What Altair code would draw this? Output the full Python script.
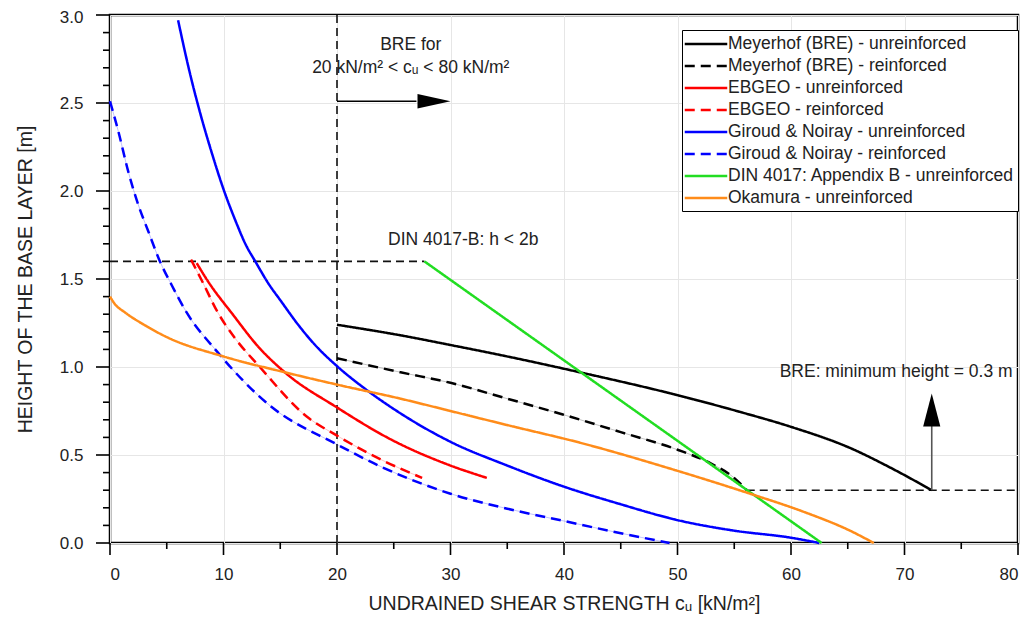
import altair as alt
import pandas as pd

# ---------------- data ----------------
series_names = [
    "Meyerhof (BRE) - unreinforced",
    "Meyerhof (BRE) - reinforced",
    "EBGEO - unreinforced",
    "EBGEO - reinforced",
    "Giroud & Noiray - unreinforced",
    "Giroud & Noiray - reinforced",
    "DIN 4017: Appendix B - unreinforced",
    "Okamura - unreinforced",
]
series_colors = ["#000000", "#000000", "#ff0000", "#ff0000",
                 "#0000ff", "#0000ff", "#22dd22", "#ff8c1a"]
series_dashes = [[1, 0], [10, 6], [1, 0], [10, 6],
                 [1, 0], [10, 6], [1, 0], [1, 0]]

meyerhof_unr_x = [20, 25.6, 30, 35, 41.4, 50, 55.5, 60, 65.2, 68.7, 72.4]
meyerhof_unr_y = [1.24, 1.18, 1.125, 1.06, 0.97, 0.84, 0.745, 0.66, 0.54, 0.43, 0.30]

meyerhof_rei_x = [20, 25.6, 30, 35, 39.9, 45, 50, 53, 54.9, 56.1]
meyerhof_rei_y = [1.05, 0.97, 0.91, 0.82, 0.73, 0.63, 0.53, 0.45, 0.375, 0.30]

ebgeo_unr_x = [7.64, 8.6, 10.86, 13.0, 15.4, 20, 25, 30, 33.2]
ebgeo_unr_y = [1.59, 1.49, 1.295, 1.12, 0.97, 0.77, 0.58, 0.44, 0.37]

ebgeo_rei_x = [7.14, 8.1, 9.54, 11.0, 13.2, 17.3, 20, 24, 27.5]
ebgeo_rei_y = [1.61, 1.49, 1.305, 1.165, 1.0, 0.72, 0.61, 0.47, 0.37]

giroud_unr_x = [6.0, 7.0, 8.0, 9.0, 10.0, 11.0, 12.0, 12.8, 14.0, 15.0, 16.7, 18.0, 20, 22.6, 26, 30, 35, 40, 45, 50, 55, 60, 62.5]
giroud_unr_y = [2.97, 2.68, 2.43, 2.21, 2.01, 1.84, 1.69, 1.60, 1.47, 1.38, 1.23, 1.13, 1.005, 0.87, 0.72, 0.575, 0.44, 0.32, 0.22, 0.13, 0.07, 0.03, 0.0]

giroud_rei_x = [0, 0.73, 1.61, 2.5, 3.38, 4.4, 5.43, 6.75, 9.4, 14.1, 20, 24, 30, 35, 40, 44.3, 49.3]
giroud_rei_y = [2.51, 2.34, 2.11, 1.92, 1.77, 1.60, 1.466, 1.31, 1.09, 0.78, 0.56, 0.43, 0.28, 0.195, 0.125, 0.065, 0.0]

din_x = [27.7, 62.7]
din_y = [1.60, 0.0]

okamura_x = [0, 0.4, 1.32, 3.0, 5.0, 10, 15.4, 20, 25.6, 30, 35, 41.4, 50, 56.4, 61, 65.2, 67.3]
okamura_y = [1.40, 1.36, 1.31, 1.24, 1.17, 1.06, 0.97, 0.90, 0.82, 0.75, 0.67, 0.57, 0.41, 0.28, 0.18, 0.07, 0.0]

series_x = [meyerhof_unr_x, meyerhof_rei_x, ebgeo_unr_x, ebgeo_rei_x,
            giroud_unr_x, giroud_rei_x, din_x, okamura_x]
series_y = [meyerhof_unr_y, meyerhof_rei_y, ebgeo_unr_y, ebgeo_rei_y,
            giroud_unr_y, giroud_rei_y, din_y, okamura_y]

# reference (dashed) lines
ref_x1 = [20, 0, 56.1]
ref_x2 = [20, 27.7, 80]
ref_y1 = [0, 1.6, 0.3]
ref_y2 = [3, 1.6, 0.3]

# arrows: shaft and head
arrow_x1 = [20, 72.4]
arrow_x2 = [27.0, 72.4]
arrow_y1 = [2.51, 0.30]
arrow_y2 = [2.51, 0.665]
arrow_shaft_color = ["#000000", "#555555"]
arrow_tip_x = [30.0, 72.4]
arrow_tip_y = [2.51, 0.85]
arrow_shape = ["M0,0L-1,-0.22L-1,0.22Z", "M0,0L-0.26,1L0.26,1Z"]

# annotations
center_text = ["BRE for", "20 kN/m² < cᵤ < 80 kN/m²"]
center_x = [26.5, 26.5]
center_y = [2.83, 2.70]
left_text = ["DIN 4017-B: h < 2b", "BRE: minimum height = 0.3 m"]
left_x = [24.5, 59.0]
left_y = [1.72, 0.97]

# axis ticks
x_major = [0, 10, 20, 30, 40, 50, 60, 70, 80]
x_minor = [5, 15, 25, 35, 45, 55, 65, 75]
y_major = [0.0, 0.5, 1.0, 1.5, 2.0, 2.5, 3.0]
y_minor = [0.1, 0.2, 0.3, 0.4, 0.6, 0.7, 0.8, 0.9, 1.1, 1.2, 1.3, 1.4,
           1.6, 1.7, 1.8, 1.9, 2.1, 2.2, 2.3, 2.4, 2.6, 2.7, 2.8, 2.9]

# ---------------- tables ----------------
rows = []
for name, col, xv, yv in zip(series_names, series_colors, series_x, series_y):
    for i, (x, y) in enumerate(zip(xv, yv)):
        rows.append({"series": name, "col": col, "x": x, "y": y, "order": i})
df = pd.DataFrame(rows)
df_rei = df[df["series"].str.endswith("- reinforced")]

ref_df = pd.DataFrame({"x": ref_x1, "x2": ref_x2, "y": ref_y1, "y2": ref_y2})
arr_df = pd.DataFrame({"x": arrow_x1, "x2": arrow_x2, "y": arrow_y1, "y2": arrow_y2,
                       "c": arrow_shaft_color})
tip_df = pd.DataFrame({"x": arrow_tip_x, "y": arrow_tip_y, "shape": arrow_shape})
ctext_df = pd.DataFrame({"t": center_text, "x": center_x, "y": center_y})
ltext_df = pd.DataFrame({"t": left_text, "x": left_x, "y": left_y})

PLOT_W, PLOT_H = 908, 528
FONT = "Liberation Sans"
xs = alt.Scale(domain=[0, 80], nice=False, zero=False)
ys = alt.Scale(domain=[0, 3], nice=False, zero=False)

color_scale = alt.Scale(domain=series_names, range=series_colors)
dash_scale = alt.Scale(domain=series_names, range=series_dashes)

x_axis = alt.Axis(
    values=x_major, ticks=False, domain=False,
    grid=True, gridColor="#e6e6e6", gridWidth=1,
    labelFontSize=17, labelPadding=23, labelColor="#222", labelFont=FONT,
    labelOverlap=False,
    title="UNDRAINED SHEAR STRENGTH cᵤ [kN/m²]", titleFontSize=19.5, titleFont=FONT,
    titleFontWeight="normal", titleColor="#222", titlePadding=12,
)
y_axis = alt.Axis(
    values=y_major, format=".1f", ticks=False, domain=False,
    grid=True, gridColor="#e6e6e6", gridWidth=1,
    labelFontSize=17, labelPadding=27, labelColor="#222", labelFont=FONT,
    labelOverlap=False,
    labelOffset={"condition": {"test": "datum.value >= 2.99", "value": 2}, "value": 0},
    title="HEIGHT OF THE BASE LAYER [m]", titleFontSize=19.5, titleFont=FONT,
    titleFontWeight="normal", titleColor="#222", titlePadding=24,
)

ref_layer = alt.Chart(ref_df).mark_rule(
    color="#111", strokeWidth=1.6, strokeDash=[8, 5]
).encode(
    x=alt.X("x:Q", scale=xs, axis=x_axis),
    x2="x2:Q",
    y=alt.Y("y:Q", scale=ys, axis=y_axis),
    y2="y2:Q",
)

# axis tick marks (outside the frame), positioned by the scales
def xticks(vals, length):
    return alt.Chart(pd.DataFrame({"v": vals})).mark_rule(
        color="black", strokeWidth=1.6
    ).encode(
        x=alt.X("v:Q", scale=xs),
        y=alt.value(PLOT_H), y2=alt.value(PLOT_H + length),
    )

def yticks(vals, length):
    return alt.Chart(pd.DataFrame({"v": vals})).mark_rule(
        color="black", strokeWidth=1.6
    ).encode(
        y=alt.Y("v:Q", scale=ys),
        x=alt.value(0), x2=alt.value(-length),
    )

tick_layers = [xticks(x_major, 12), xticks(x_minor, 6),
               yticks(y_major, 14), yticks(y_minor, 7)]

underlay = alt.Chart(df_rei).mark_line(strokeWidth=0.8, opacity=0.3, interpolate="monotone").encode(
    x=alt.X("x:Q", scale=xs),
    y=alt.Y("y:Q", scale=ys),
    stroke=alt.Stroke("col:N", scale=None),
    detail="series:N",
    order="order:Q",
)

legend = alt.Legend(
    orient="none", legendX=572, legendY=15,
    symbolType="M-2.5,0H2.5", symbolSize=289,
    symbolStrokeWidth=2.5, symbolOffset=10,
    labelFontSize=17.5, labelFont=FONT, labelColor="#222",
    labelLimit=400, labelOffset=12,
    rowPadding=3, padding=4,
    strokeColor="black", fillColor="white",
    title=None,
)

lines = alt.Chart(df).mark_line(strokeWidth=2.5, interpolate="monotone").encode(
    x=alt.X("x:Q", scale=xs),
    y=alt.Y("y:Q", scale=ys),
    color=alt.Color("series:N", scale=color_scale, title=None, legend=legend),
    strokeDash=alt.StrokeDash("series:N", scale=dash_scale, title=None, legend=legend),
    order="order:Q",
)

arrows = alt.Chart(arr_df).mark_rule(strokeWidth=1.6).encode(
    x=alt.X("x:Q", scale=xs), x2="x2:Q",
    y=alt.Y("y:Q", scale=ys), y2="y2:Q",
    stroke=alt.Stroke("c:N", scale=None),
)
tips = alt.Chart(tip_df).mark_point(size=4356, filled=True, opacity=1,
                                    strokeWidth=0, fill="black").encode(
    x=alt.X("x:Q", scale=xs),
    y=alt.Y("y:Q", scale=ys),
    shape=alt.Shape("shape:N", scale=None),
)

ctexts = alt.Chart(ctext_df).mark_text(fontSize=17.5, font=FONT, color="#222",
                                       baseline="middle", align="center").encode(
    x=alt.X("x:Q", scale=xs),
    y=alt.Y("y:Q", scale=ys),
    text="t:N",
)
ltexts = alt.Chart(ltext_df).mark_text(fontSize=17.5, font=FONT, color="#222",
                                       baseline="middle", align="left").encode(
    x=alt.X("x:Q", scale=xs),
    y=alt.Y("y:Q", scale=ys),
    text="t:N",
)

chart = alt.layer(ref_layer, *tick_layers, underlay, lines, arrows, tips, ctexts, ltexts).properties(
    width=PLOT_W, height=PLOT_H,
    autosize=alt.AutoSizeParams(type="none"),
    padding={"left": 102, "top": 7, "right": 3, "bottom": 74},
).configure(
    font=FONT
).configure_view(
    stroke="black", strokeWidth=2.5
)

chart.save("out.html", embed_options={"renderer": "svg", "actions": False})
